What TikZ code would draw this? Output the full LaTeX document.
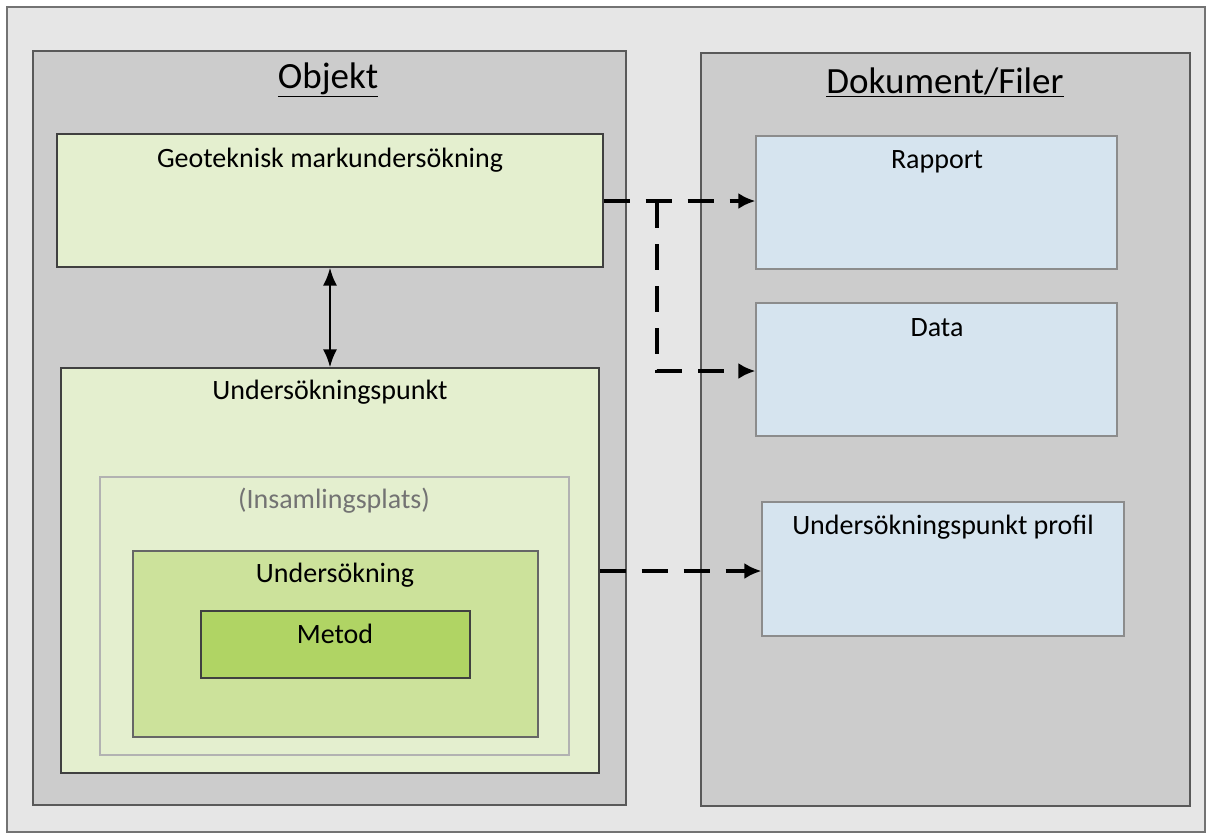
\documentclass[tikz,border=0pt]{standalone}
\usepackage{fontspec}
\setmainfont{Carlito}
\usetikzlibrary{arrows.meta}
\definecolor{bgout}{HTML}{E6E6E6}
\definecolor{panel}{HTML}{CCCCCC}
\definecolor{lgreen}{HTML}{E4EFCF}
\definecolor{mgreen}{HTML}{CCE29B}
\definecolor{dgreen}{HTML}{B0D464}
\definecolor{lblue}{HTML}{D6E4EF}
\tikzset{
  box/.style={draw=#1, line width=1.2pt, rectangle, inner sep=0pt},
  body/.style={font=\fontsize{28}{33}\selectfont, inner sep=0pt, anchor=center},
  ttl/.style={font=\fontsize{37}{44}\selectfont, inner sep=0pt, anchor=center},
  dasharrow/.style={line width=3.6pt, dash pattern=on 26pt off 16pt, -{Latex[length=17pt,width=16pt]}}
}
\begin{document}
\begin{tikzpicture}[x=1pt,y=-1pt]
\useasboundingbox (0,0) rectangle (1212,839);
\fill[white] (0,0) rectangle (1212,839);
% outer
\node[box=gray!90!black, fill=bgout, minimum width=1198, minimum height=825] (outer) at (606,419.5) {};
% panels
\node[box=black!65, fill=panel, minimum width=593, minimum height=754] (objp) at (329.5,428) {};
\node[box=black!65, fill=panel, minimum width=489, minimum height=753] (dokp) at (945.5,429.5) {};
\node[ttl] (objt) at (328,80) {\underline{Objekt}};
\node[ttl] (dokt) at (945,82) {\underline{Dokument/Filer}};
% object boxes
\node[box=black!75, fill=lgreen, minimum width=546, minimum height=133] (geo) at (330,200.5) {};
\node[body] (geot) at (330,160) {Geoteknisk markundersökning};
\node[box=black!75, fill=lgreen, minimum width=538, minimum height=405] (up) at (330,570.5) {};
\node[body] (upt) at (330,392) {Undersökningspunkt};
\node[box=black!30, fill=lgreen, minimum width=469, minimum height=278] (ins) at (334.5,616) {};
\node[body, text=black!55] (inst) at (334,501) {(Insamlingsplats)};
\node[box=black!60, fill=mgreen, minimum width=405, minimum height=186] (us) at (335.5,644) {};
\node[body] (ust) at (335,575) {Undersökning};
\node[box=black!75, fill=dgreen, minimum width=269, minimum height=67] (met) at (335.5,644.5) {};
\node[body] (mett) at (335,634) {Metod};
% document boxes
\node[box=black!45, fill=lblue, minimum width=361, minimum height=133] (rap) at (936.5,202.5) {};
\node[body] (rapt) at (937,162) {Rapport};
\node[box=black!45, fill=lblue, minimum width=361, minimum height=133] (dat) at (936.5,369.5) {};
\node[body] (datt) at (937,328) {Data};
\node[box=black!45, fill=lblue, minimum width=362, minimum height=134] (prof) at (943,569) {};
\node[body] (proft) at (943,527) {Undersökningspunkt profil};
% connectors
\draw[line width=2.4pt, {Latex[length=18pt,width=14pt]}-{Latex[length=18pt,width=14pt]}] (geo.south -| 330,0) -- (up.north -| 330,0);
\coordinate (geoR) at (geo.east |- 0,201);
\coordinate (br) at (657,202);
\coordinate (brd) at (657,371);
\draw[dasharrow] (geoR) -- (rap.west |- geoR);
\draw[dasharrow] (br) -- (brd) -- (dat.west |- brd);
\coordinate (upR) at (up.east |- 0,571);
\draw[dasharrow] (upR) -- (prof.west |- upR);
\end{tikzpicture}
\end{document}
